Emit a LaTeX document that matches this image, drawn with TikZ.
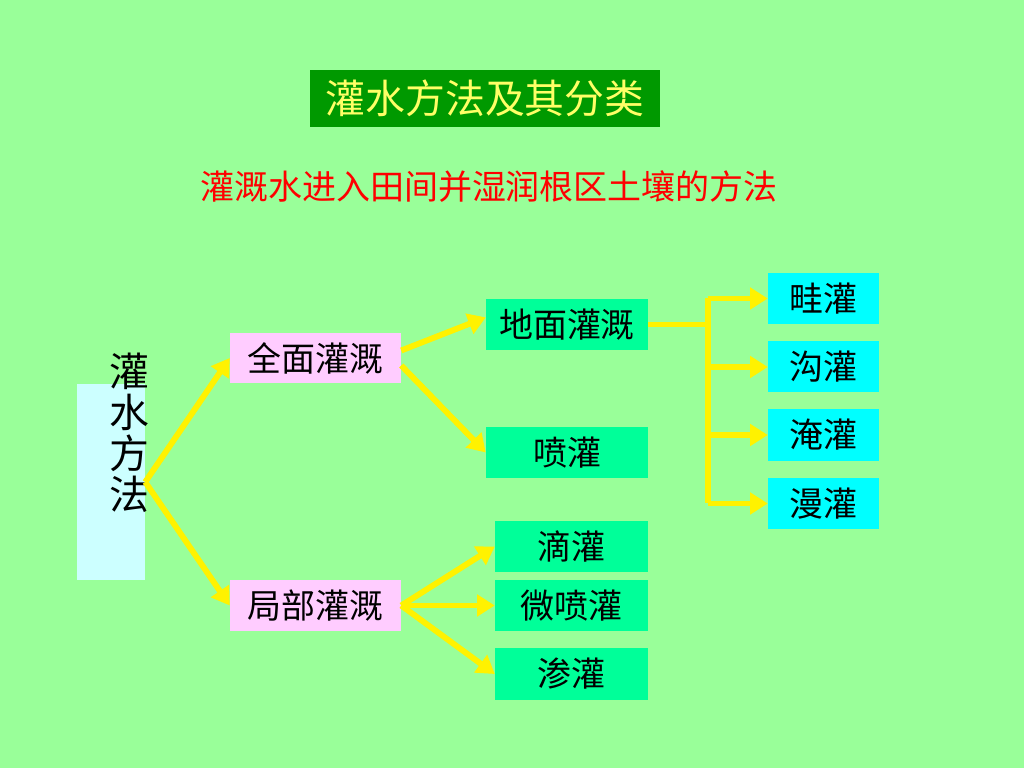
\documentclass[tikz,border=0pt]{standalone}
\usepackage{fontspec}
\setmainfont{Noto Sans CJK SC}
\usetikzlibrary{arrows.meta}

\definecolor{fondo}{RGB}{153,255,153}
\definecolor{verdeosc}{RGB}{0,153,0}
\definecolor{amarclaro}{RGB}{255,255,102}
\definecolor{rosa}{RGB}{255,204,255}
\definecolor{verdecaja}{RGB}{0,255,153}
\definecolor{cian}{RGB}{0,255,255}
\definecolor{cianclaro}{RGB}{204,255,255}

\begin{document}
\begin{tikzpicture}[
    x=0.03cm,
    y=-0.03cm,
    caja/.style={inner sep=0pt, minimum height=1.53cm, font=\fontsize{29pt}{31pt}\selectfont},
    rosacaja/.style={caja, fill=rosa, minimum width=5.13cm, minimum height=1.5cm},
    verde/.style={caja, fill=verdecaja, minimum width=4.86cm},
    verdeb/.style={caja, fill=verdecaja, minimum width=4.59cm},
    cianc/.style={caja, fill=cian, minimum width=3.33cm},
    flecha/.style={draw=yellow, line width=5pt, -{Triangle[length=15pt,width=18pt]}},
    linea/.style={draw=yellow, line width=5pt}
]

% fondo
\useasboundingbox[fill=fondo] (0,0) rectangle (1024,768);

% titulo
\node[fill=verdeosc, minimum width=10.5cm, minimum height=1.71cm, inner sep=0pt,
      text=amarclaro, font=\fontsize{34pt}{36pt}\selectfont] (titulo) at (485,98.5) {灌水方法及其分类};
\node[text=red, font=\fontsize{29pt}{31pt}\selectfont] (definicion) at (489,187)
    {灌溉水进入田间并湿润根区土壤的方法};

% 灌水方法
\node[fill=cianclaro, minimum width=2.04cm, minimum height=5.88cm, inner sep=0pt] (metodo) at (111,482) {};
\node[align=center, inner sep=0pt, font=\fontsize{34pt}{35pt}\selectfont] (metodotxt) at (129,433)
    {灌\\水\\方\\法};

% segundo nivel
\node[rosacaja] (quanmian) at (315.5,358) {全面灌溉};
\node[rosacaja] (jubu) at (315.5,605.5) {局部灌溉};

% tercer nivel
\node[verde] (dimian) at (567,324.5) {地面灌溉};
\node[verde] (penguan) at (567,452.5) {喷灌};
\node[verdeb] (diguan) at (571.5,546.5) {滴灌};
\node[verdeb] (weipen) at (571.5,605.5) {微喷灌};
\node[verdeb] (shenguan) at (571.5,674) {渗灌};

% cuarto nivel
\foreach \nom/\txt/\y in {qiguan/畦灌/298.5, gouguan/沟灌/367, yanguan/淹灌/435, manguan/漫灌/503.5}
    \node[cianc] (\nom) at (823.5,\y) {\txt};

% flechas
\draw[flecha] (metodo.east) -- (quanmian.west);
\draw[flecha] (metodo.east) -- (jubu.west);
\draw[flecha] (quanmian.5) -- (dimian.175);
\draw[flecha] (quanmian.-5) -- (penguan.west);
\draw[flecha] (jubu.east) -- (diguan.west);
\draw[flecha] (jubu.east) -- (weipen.west);
\draw[flecha] (jubu.east) -- (shenguan.west);

% ramas de 地面灌溉
\coordinate (rama) at (708,324.5);
\draw[linea] (dimian.east) -- (rama);
\draw[linea] (rama |- qiguan.west) -- (rama |- manguan.west);
\foreach \nom in {qiguan, gouguan, yanguan, manguan}
    \draw[flecha] (rama |- \nom.west) -- (\nom.west);

\end{tikzpicture}
\end{document}
